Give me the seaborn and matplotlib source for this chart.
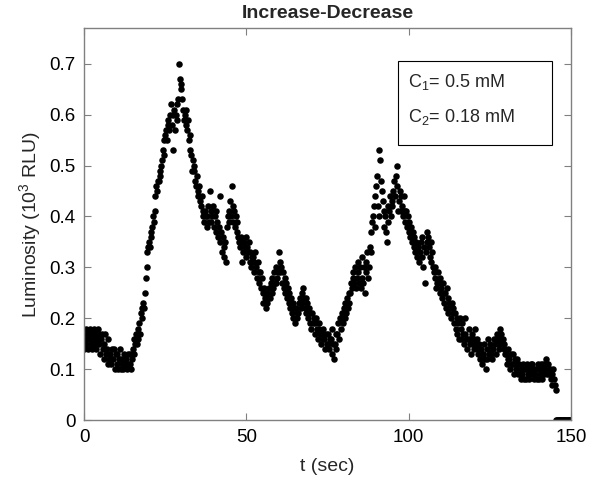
import numpy as np
import pandas as pd
import matplotlib
matplotlib.use("Agg")
import matplotlib.pyplot as plt
import seaborn as sns
from matplotlib.patches import Rectangle

# Luminosity readings in units of 0.01 x 10^3 RLU, sampled every 0.25 s
lum_hundredths = [
    14, 16, 18, 15, 17, 14, 16, 18, 15, 17, 14, 16, 18, 15, 17, 14, 16, 18, 15, 17,   # 0-5 s
    13, 16, 17, 14, 15, 12, 17, 13, 14, 11, 16, 12, 13, 11, 14, 12, 12, 14, 10, 13,   # 5-10 s
    11, 13, 10, 12, 14, 10, 12, 11, 10, 13, 11, 12, 12, 10, 13, 11, 13, 11, 10, 12,   # 10-15 s
    14, 13, 16, 15, 17, 15, 18, 16, 19, 17, 21, 20, 22, 23, 22, 25, 28, 30, 33, 34,   # 15-20 s
    35, 34, 36, 37, 38, 40, 39, 41, 44, 46, 45, 47, 47, 49, 48, 50, 51, 53, 52, 55,   # 20-25 s
    56, 57, 55, 58, 59, 57, 60, 62, 58, 60, 53, 61, 57, 60, 62, 59, 63, 70, 67, 65,   # 25-30 s
    66, 63, 61, 59, 60, 58, 61, 57, 59, 55, 56, 53, 52, 49, 51, 50, 49, 47, 46, 48,   # 30-35 s
    45, 44, 46, 43, 42, 44, 40, 41, 39, 41, 40, 38, 40, 42, 39, 45, 41, 39, 40, 42,   # 35-40 s
    38, 40, 41, 37, 39, 36, 38, 44, 35, 37, 33, 36, 34, 32, 35, 31, 38, 40, 39, 41,   # 40-45 s
    43, 40, 46, 42, 39, 41, 38, 40, 37, 39, 36, 35, 34, 36, 31, 35, 33, 35, 34, 36,   # 45-50 s
    32, 34, 33, 35, 31, 33, 30, 32, 32, 29, 31, 33, 30, 28, 31, 29, 27, 29, 26, 28,   # 50-55 s
    25, 23, 26, 24, 22, 25, 23, 24, 26, 24, 27, 25, 28, 26, 29, 27, 27, 30, 28, 29,   # 55-60 s
    33, 29, 31, 30, 27, 29, 26, 28, 25, 27, 24, 26, 23, 25, 22, 24, 21, 23, 20, 22,   # 60-65 s
    19, 22, 20, 21, 21, 23, 24, 22, 25, 23, 26, 24, 22, 24, 21, 23, 20, 22, 19, 21,   # 65-70 s
    18, 21, 19, 20, 17, 19, 20, 18, 16, 18, 19, 17, 15, 17, 18, 16, 16, 14, 17, 15,   # 70-75 s
    15, 17, 14, 16, 16, 13, 18, 15, 12, 15, 17, 14, 17, 19, 16, 20, 20, 18, 21, 19,   # 75-80 s
    22, 20, 23, 21, 24, 22, 25, 23, 25, 27, 26, 28, 29, 27, 30, 26, 28, 31, 29, 27,   # 80-85 s
    30, 26, 32, 28, 27, 30, 25, 29, 31, 33, 28, 30, 34, 33, 37, 39, 40, 42, 38, 44,   # 85-90 s
    46, 48, 42, 40, 53, 51, 47, 45, 43, 41, 38, 40, 37, 35, 39, 42, 41, 44, 40, 43,   # 90-95 s
    42, 45, 47, 44, 48, 50, 46, 41, 43, 45, 41, 44, 42, 40, 44, 41, 39, 41, 38, 40,   # 95-100 s
    37, 39, 36, 38, 35, 37, 34, 36, 33, 35, 32, 34, 34, 31, 33, 35, 36, 32, 30, 34,   # 100-105 s
    27, 33, 37, 35, 36, 34, 32, 35, 31, 33, 30, 29, 28, 30, 26, 27, 29, 27, 25, 28,   # 105-110 s
    26, 24, 27, 25, 23, 25, 22, 26, 24, 21, 23, 22, 20, 23, 21, 22, 19, 21, 18, 20,   # 110-115 s
    17, 19, 16, 20, 18, 16, 19, 17, 15, 17, 20, 16, 14, 16, 18, 15, 16, 13, 17, 15,   # 115-120 s
    14, 16, 18, 15, 16, 14, 13, 15, 12, 14, 11, 13, 13, 15, 12, 10, 14, 12, 16, 13,   # 120-125 s
    15, 13, 14, 12, 14, 16, 15, 13, 16, 17, 15, 14, 18, 16, 17, 15, 16, 14, 15, 13,   # 125-130 s
    13, 11, 12, 14, 12, 10, 13, 11, 11, 13, 9, 12, 10, 12, 11, 9, 11, 9, 10, 8,       # 130-135 s
    9, 11, 8, 10, 10, 8, 11, 9, 8, 10, 9, 11, 11, 9, 8, 10, 9, 10, 8, 11,             # 135-140 s
    10, 8, 9, 11, 8, 11, 10, 9, 10, 12, 9, 11, 11, 9, 10, 8, 9, 7, 10, 8,             # 140-145 s
    7, 6, 0, 0, 0, 0, 0, 0, 0, 0, 0, 0, 0, 0, 0, 0, 0, 0, 0, 0,                       # 145-150 s
]
sample_interval = 0.25  # seconds

title = "Increase-Decrease"
xlabel = "t (sec)"
ylabel = "Luminosity (10$^3$ RLU)"
note_lines = ["C$_1$= 0.5 mM", "C$_2$= 0.18 mM"]
xticks = [0, 50, 100, 150]
yticks = [0, 0.1, 0.2, 0.3, 0.4, 0.5, 0.6, 0.7]
ytick_labels = ["0", "0.1", "0.2", "0.3", "0.4", "0.5", "0.6", "0.7"]

df = pd.DataFrame({
    "t": np.arange(len(lum_hundredths)) * sample_interval,
    "lum": np.array(lum_hundredths) / 100.0,
})

sns.set_style("white")
plt.rcParams["font.family"] = ["Liberation Sans", "DejaVu Sans"]
plt.rcParams["mathtext.fontset"] = "custom"
plt.rcParams["mathtext.rm"] = "Liberation Sans"
plt.rcParams["mathtext.it"] = "Liberation Sans"

fig = plt.figure(figsize=(5.92, 4.88), dpi=100)
ax = fig.add_axes([0.142, 0.139, 0.8225, 0.8035])

sns.scatterplot(data=df, x="t", y="lum", color="black", s=22, linewidth=0, ax=ax, legend=False)

ax.set_xlim(0, 150)
ax.set_ylim(0, 0.77)
ax.set_xticks(xticks)
ax.set_xticklabels([str(v) for v in xticks])
ax.set_yticks(yticks)
ax.set_yticklabels(ytick_labels)
ax.tick_params(direction="in", length=5, width=0.8, colors="#808080",
               labelcolor="black", labelsize=13.5, top=True, right=True,
               bottom=True, left=True, pad=6)
for sp in ax.spines.values():
    sp.set_visible(True)
    sp.set_color("#808080")
    sp.set_linewidth(1.0)

ax.set_xlabel(xlabel, fontsize=14, labelpad=9)
ax.set_ylabel(ylabel, fontsize=14, labelpad=5)
ax.set_title(title, fontsize=14, fontweight="bold", pad=7)

ax.add_patch(Rectangle((0.645, 0.702), 0.316, 0.214, transform=ax.transAxes,
                       fill=False, edgecolor="black", linewidth=0.8, zorder=5))
ax.text(0.665, 0.862, note_lines[0], transform=ax.transAxes, fontsize=13,
        va="center", ha="left")
ax.text(0.665, 0.773, note_lines[1], transform=ax.transAxes, fontsize=13,
        va="center", ha="left")

fig.savefig("out.png", dpi=100)
